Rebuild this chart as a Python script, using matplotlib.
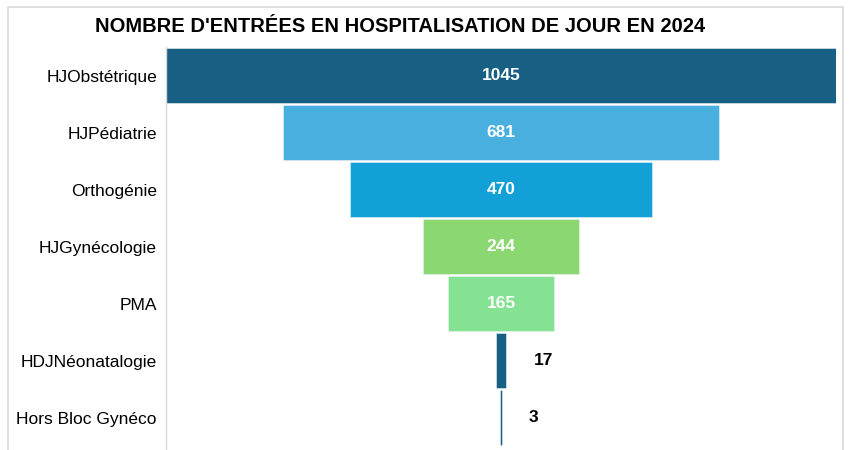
import matplotlib.pyplot as plt
from matplotlib.patches import Rectangle

plt.rcParams['font.family'] = ['Liberation Sans', 'DejaVu Sans']

categories = ['HJObstétrique', 'HJPédiatrie', 'Orthogénie', 'HJGynécologie',
              'PMA', 'HDJNéonatalogie', 'Hors Bloc Gynéco']
values = [1045, 681, 470, 244, 165, 17, 3]
colors = ['#176083', '#49AFDF', '#12A0D6', '#8BD872', '#85E292', '#176083', '#176083']
title = "NOMBRE D'ENTRÉES EN HOSPITALISATION DE JOUR EN 2024"

W, H = 849, 450
fig = plt.figure(figsize=(W / 100, H / 100), dpi=100)

# light grey frame round the chart (bottom edge falls outside the picture)
fig.patches.append(Rectangle((8 / W, -0.05), 835 / W, 1.05 - 7 / H,
                             transform=fig.transFigure, fill=False,
                             edgecolor='#D9D9D9', linewidth=1.2))

ax = fig.add_axes([166 / W, 0, 670 / W, 1 - 47 / H])

ypos = list(range(len(values)))
lefts = [-v / 2 for v in values]
ax.barh(ypos, values, left=lefts, height=0.95, color=colors,
        edgecolor='#EAF2F6', linewidth=0.4)

half = max(values) / 2
ax.set_xlim(-half, half)
ax.set_ylim(6.57, -0.5)

for y, v in zip(ypos, values):
    if v > 100:
        ax.text(0, y, str(v), ha='center', va='center', color='white',
                fontsize=12.5, fontweight='bold')
    else:
        ax.annotate(str(v), (v / 2, y), xytext=(19.5, 0), textcoords='offset points',
                    ha='left', va='center', color='black',
                    fontsize=12.5, fontweight='bold')

ax.set_yticks(ypos)
ax.set_yticklabels(categories, fontsize=12.5)
ax.tick_params(axis='y', length=0, pad=6.5)
ax.set_xticks([])
for s in ['top', 'right', 'bottom']:
    ax.spines[s].set_visible(False)
ax.spines['left'].set_color('#D9D9D9')
ax.spines['left'].set_linewidth(1.0)

fig.text(400 / W, 1 - 27 / H, title, ha='center', va='center',
         fontsize=14.5, fontweight='bold', color='black')

fig.savefig('out.png', dpi=100)
